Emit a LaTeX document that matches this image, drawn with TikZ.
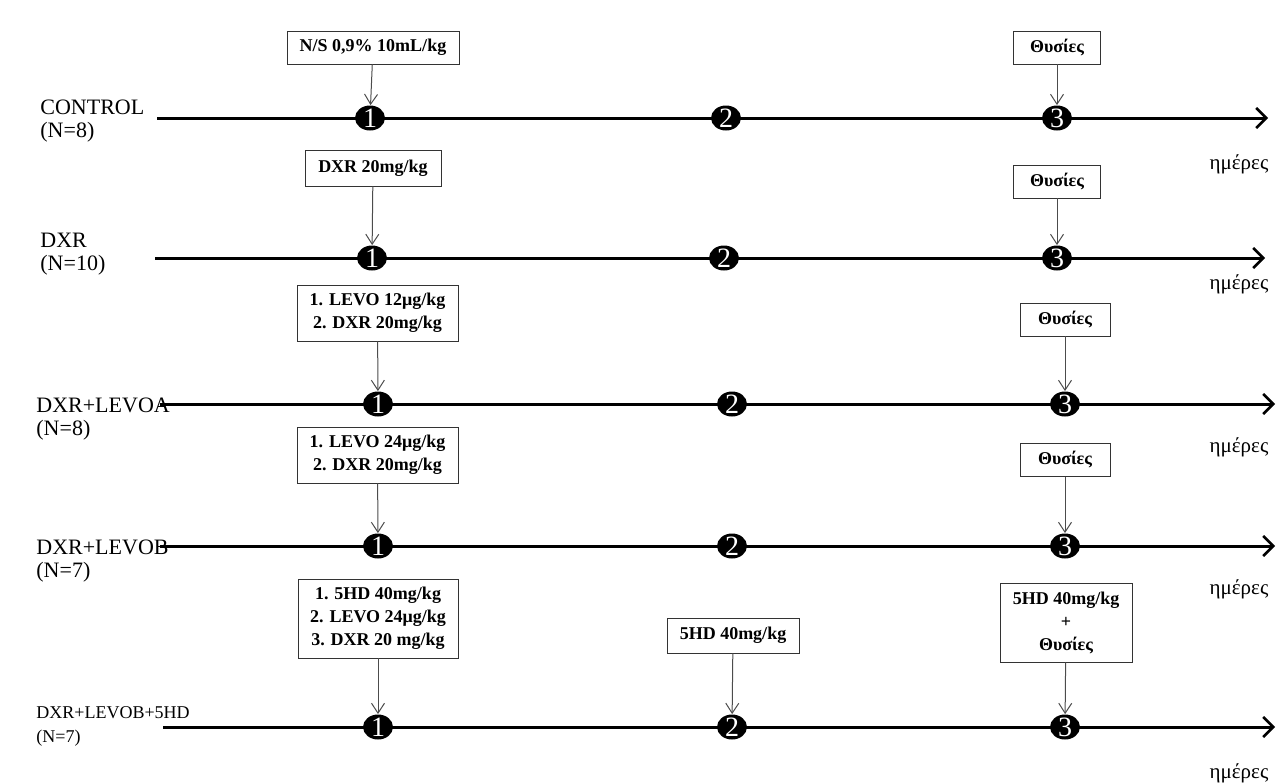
\documentclass[tikz,border=0pt]{standalone}
\usepackage{fontspec}
\setmainfont{Liberation Serif}
\usetikzlibrary{arrows.meta, positioning, shapes.geometric}
\tikzset{
  dose/.style     = {draw=black!80, thin, fill=white, align=center, inner sep=3pt,
                     font=\bfseries\fontsize{9}{11.5}\selectfont},
  daymark/.style  = {ellipse, fill=black, inner sep=0pt, minimum width=15pt,
                     minimum height=12.5pt},
  daynum/.style   = {text=white, inner sep=0pt, font=\fontsize{14}{14}\selectfont},
  timeline/.style = {line width=1.5pt, -{Straight Barb[length=5pt, width=10pt, line width=1.3pt]}},
  feed/.style     = {draw=black!70, line width=0.5pt, -{Straight Barb[length=5pt, width=6.5pt]}},
  grp/.style      = {anchor=west, align=left, inner sep=0pt, font=\fontsize{11}{11.5}\selectfont},
  days/.style     = {inner sep=0pt, font=\fontsize{10.5}{12}\selectfont},
}
\begin{document}
\begin{tikzpicture}[x=0.5pt, y=-0.5pt]
  \useasboundingbox (0,0) rectangle (1280,783);
  % time axes with the three days
  \foreach \r/\y/\xs/\xe/\xa/\xb/\xc in {1/118/157/1268/370/726/1057,
                                          2/258/155/1265/372/724/1057,
                                          3/404/160/1275/378/732/1065,
                                          4/546/160/1275/378/732/1065,
                                          5/727/163/1275/378/732/1065} {
    \coordinate (s\r) at (\xs,\y);
    \coordinate (e\r) at (\xe,\y);
    \draw[timeline] (s\r) -- (e\r);
    \node[daymark, label={[daynum]center:1}] (d\r-1) at (\xa,\y) {};
    \node[daymark, label={[daynum]center:2}] (d\r-2) at (\xb,\y) {};
    \node[daymark, label={[daynum]center:3}] (d\r-3) at (\xc,\y) {};
  }
  % "days" under each axis
  \foreach \r/\y in {1/164, 2/284, 3/447, 4/589, 5/773} {
    \node[days] (t\r) at (1239,\y) {ημέρες};
  }
  % groups
  \node[grp] (g1) at (40,121) {CONTROL\\(N=8)};
  \node[grp] (g2) at (40,254) {DXR\\(N=10)};
  \node[grp] (g3) at (36,419) {DXR+LEVOA\\(N=8)};
  \node[grp] (g4) at (36,561) {DXR+LEVOB\\(N=7)};
  \node[grp, font=\fontsize{9}{12}\selectfont] (g5) at (36,726) {DXR+LEVOB+5HD\\(N=7)};
  % treatments on day 1
  \node[dose, minimum width=86pt, minimum height=16.5pt] (ns) at (373,47.5) {N/S 0,9\% 10mL/kg};
  \node[dose, minimum width=68pt, minimum height=18pt] (dxr) at (373,168) {DXR 20mg/kg};
  \node[dose, minimum width=80.5pt, minimum height=28pt] (levoA) at (377.5,313)
    {1. LEVO 12μg/kg\\2. DXR 20mg/kg};
  \node[dose, minimum width=80.5pt, minimum height=28pt] (levoB) at (377.5,455)
    {1. LEVO 24μg/kg\\2. DXR 20mg/kg};
  \node[dose, minimum width=80pt, minimum height=39.5pt] (hdA) at (378,618.5)
    {1. 5HD 40mg/kg\\2. LEVO 24μg/kg\\3. DXR 20 mg/kg};
  % treatment on day 2
  \node[dose, minimum width=66pt, minimum height=17.5pt] (hdB) at (733,635.5) {5HD 40mg/kg};
  % sacrifice on day 3
  \node[dose, minimum width=43.5pt, minimum height=16.5pt] (sac1) at (1057,47.5) {Θυσίες};
  \node[dose, minimum width=43.5pt, minimum height=16.5pt] (sac2) at (1057,181.5) {Θυσίες};
  \node[dose, minimum width=45pt, minimum height=16.5pt] (sac3) at (1065,319.5) {Θυσίες};
  \node[dose, minimum width=45pt, minimum height=16.5pt] (sac4) at (1065,460) {Θυσίες};
  \node[dose, minimum width=66pt, minimum height=39.5pt] (sac5) at (1066,622.5)
    {5HD 40mg/kg\\+\\Θυσίες};
  % arrows to the days
  \draw[feed] (ns) -- (d1-1);
  \draw[feed] (dxr) -- (d2-1);
  \draw[feed] (levoA) -- (d3-1);
  \draw[feed] (levoB) -- (d4-1);
  \draw[feed] (hdA) -- (d5-1);
  \draw[feed] (hdB) -- (d5-2);
  \foreach \r in {1,...,5} {
    \draw[feed] (sac\r) -- (d\r-3);
  }
\end{tikzpicture}
\end{document}
